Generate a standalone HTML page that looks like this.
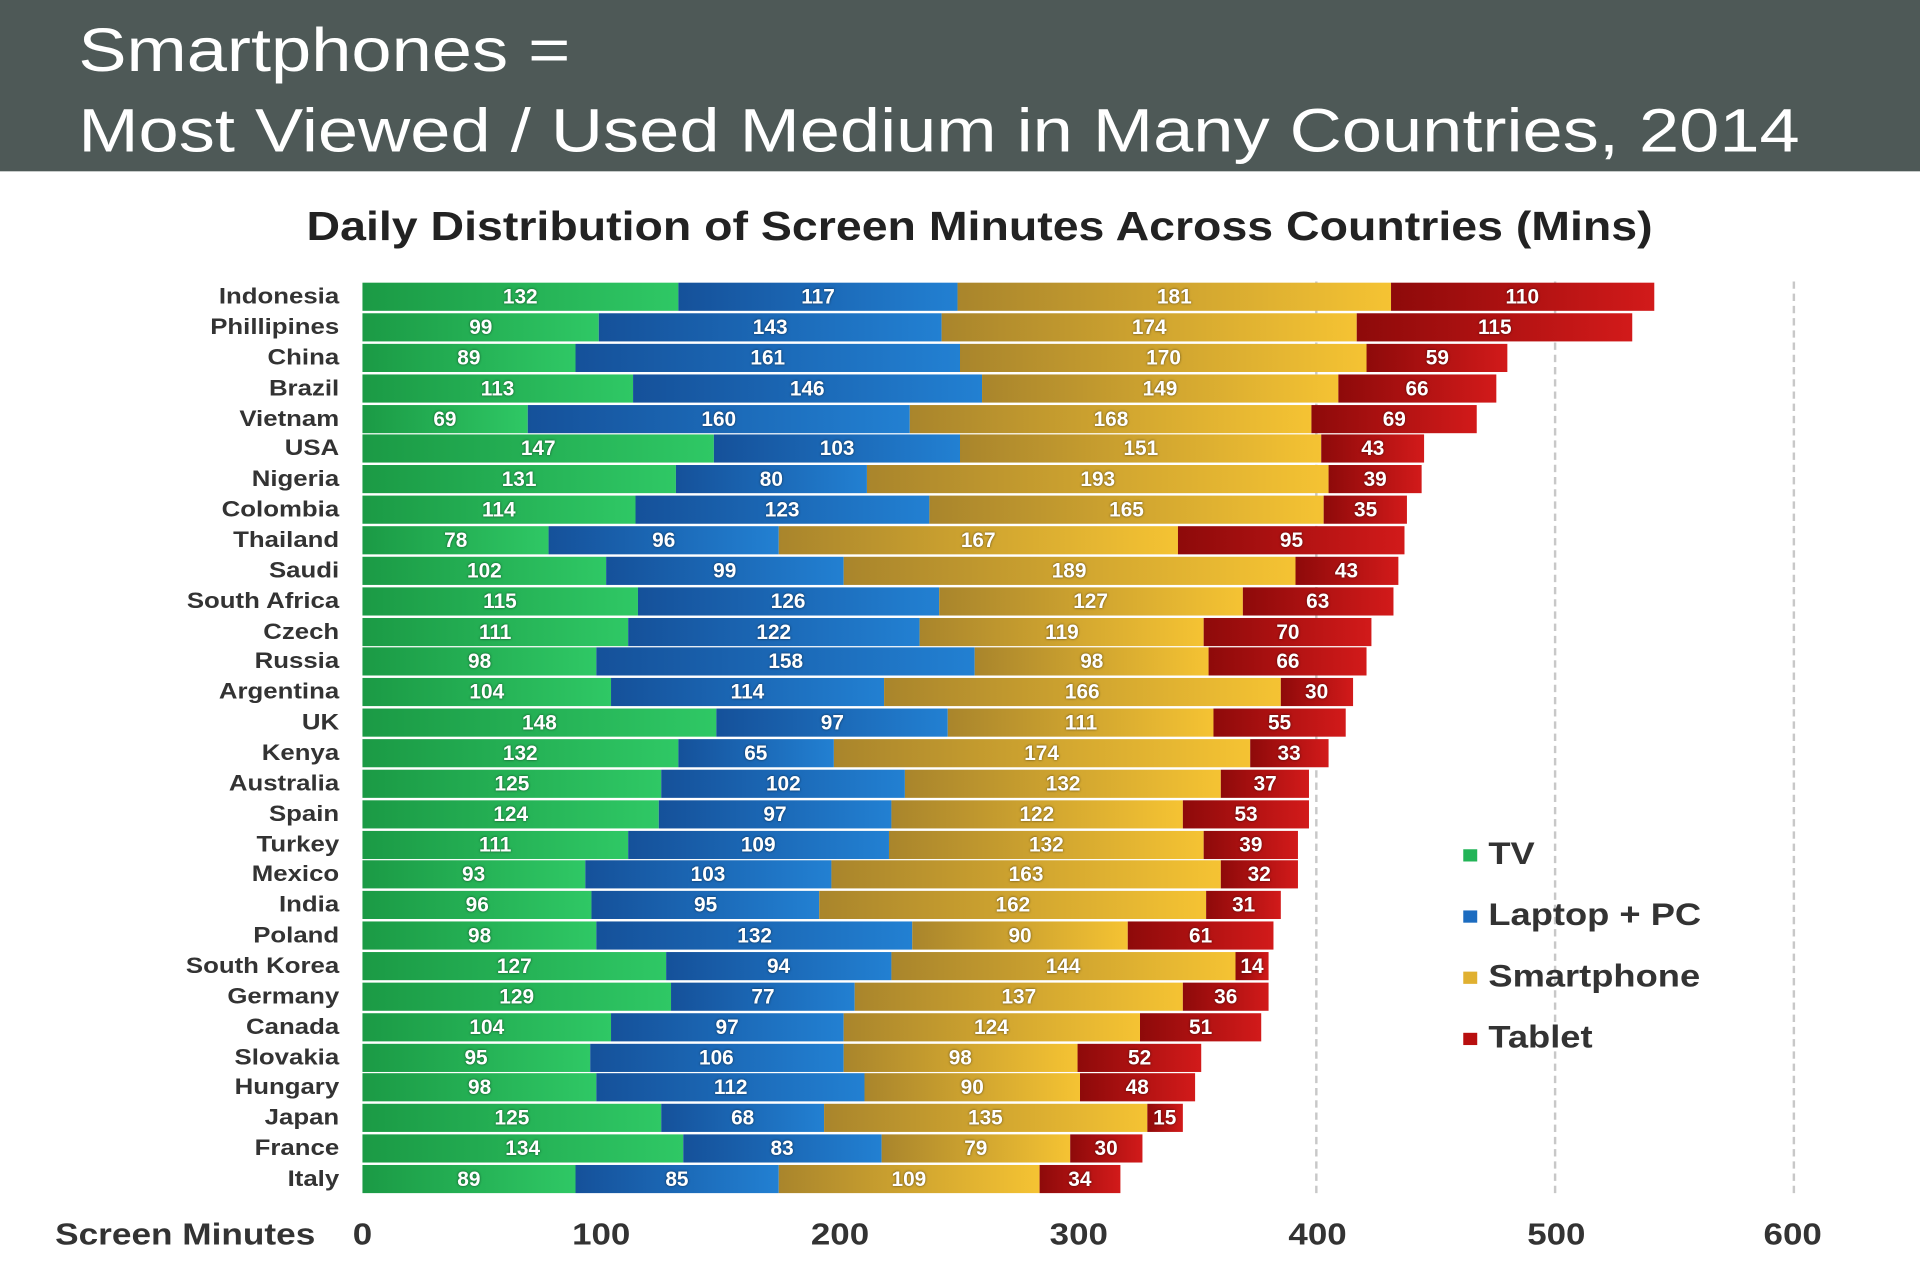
<!DOCTYPE html>
<html><head><meta charset="utf-8"><style>
html,body{margin:0;padding:0;background:#fff;overflow:hidden}
#w{position:absolute;left:0;top:0;width:1568px;height:1046px;transform-origin:0 0;transform:scale(1.22449,1.22371);font-family:"Liberation Sans",sans-serif;background:#fff}
#hd{position:absolute;left:0;top:0;width:1568px;height:140px;background:#4e5957}
.ht{position:absolute;left:64px;color:#fff;font-size:50px;line-height:50px;white-space:nowrap;transform-origin:0 0;transform:scaleX(1.18)}
#ct{position:absolute;left:0;width:1600px;top:166px;text-align:center;font-weight:bold;font-size:33px;color:#222;transform:scaleX(1.15);transform-origin:800px 0}
.row{position:absolute;left:296px;height:23px;display:flex}
.s{height:23px;width:calc(var(--v)*1.953px);color:#fff;font-weight:bold;font-size:17px;line-height:23px;text-align:center;text-shadow:0 0 2px rgba(0,0,0,.6)}
.g{background:linear-gradient(90deg,#1b9a45,#2fc865)}
.b{background:linear-gradient(90deg,#15519a,#2280d2)}
.y{background:linear-gradient(90deg,#a9852c,#f5c333)}
.r{background:linear-gradient(90deg,#8e0a0a,#d21a1a)}
.lab{position:absolute;left:0;width:277px;text-align:right;font-weight:bold;font-size:18px;color:#333;line-height:23px;transform:scaleX(1.17);transform-origin:277px 0}
.grid{position:absolute;top:230px;height:745px;border-left:2px dashed #c8c8c8}
.tk{position:absolute;top:995px;width:80px;margin-left:-40px;text-align:center;font-weight:bold;font-size:25px;color:#333;transform:scaleX(1.14)}
.lg{position:absolute;left:1195px;font-weight:bold;font-size:26px;color:#333;line-height:30px;transform:scaleX(1.14);transform-origin:0 0}
.lg i{display:inline-block;width:10px;height:10px;margin-right:8px;vertical-align:middle}
</style></head><body><div id="w">
<div id="hd"><div class="ht" style="top:16px">Smartphones =</div><div class="ht" style="top:82px">Most Viewed / Used Medium in Many Countries, 2014</div></div>
<div id="ct">Daily Distribution of Screen Minutes Across Countries (Mins)</div>
<div class="grid" style="left:1074px"></div><div class="grid" style="left:1269px"></div><div class="grid" style="left:1464px"></div>

<div class="lab" style="top:231px">Indonesia</div><div class="row" style="top:231px"><div class="s g" style="--v:132">132</div><div class="s b" style="--v:117">117</div><div class="s y" style="--v:181">181</div><div class="s r" style="--v:110">110</div></div>
<div class="lab" style="top:256px">Phillipines</div><div class="row" style="top:256px"><div class="s g" style="--v:99">99</div><div class="s b" style="--v:143">143</div><div class="s y" style="--v:174">174</div><div class="s r" style="--v:115">115</div></div>
<div class="lab" style="top:281px">China</div><div class="row" style="top:281px"><div class="s g" style="--v:89">89</div><div class="s b" style="--v:161">161</div><div class="s y" style="--v:170">170</div><div class="s r" style="--v:59">59</div></div>
<div class="lab" style="top:306px">Brazil</div><div class="row" style="top:306px"><div class="s g" style="--v:113">113</div><div class="s b" style="--v:146">146</div><div class="s y" style="--v:149">149</div><div class="s r" style="--v:66">66</div></div>
<div class="lab" style="top:331px">Vietnam</div><div class="row" style="top:331px"><div class="s g" style="--v:69">69</div><div class="s b" style="--v:160">160</div><div class="s y" style="--v:168">168</div><div class="s r" style="--v:69">69</div></div>
<div class="lab" style="top:355px">USA</div><div class="row" style="top:355px"><div class="s g" style="--v:147">147</div><div class="s b" style="--v:103">103</div><div class="s y" style="--v:151">151</div><div class="s r" style="--v:43">43</div></div>
<div class="lab" style="top:380px">Nigeria</div><div class="row" style="top:380px"><div class="s g" style="--v:131">131</div><div class="s b" style="--v:80">80</div><div class="s y" style="--v:193">193</div><div class="s r" style="--v:39">39</div></div>
<div class="lab" style="top:405px">Colombia</div><div class="row" style="top:405px"><div class="s g" style="--v:114">114</div><div class="s b" style="--v:123">123</div><div class="s y" style="--v:165">165</div><div class="s r" style="--v:35">35</div></div>
<div class="lab" style="top:430px">Thailand</div><div class="row" style="top:430px"><div class="s g" style="--v:78">78</div><div class="s b" style="--v:96">96</div><div class="s y" style="--v:167">167</div><div class="s r" style="--v:95">95</div></div>
<div class="lab" style="top:455px">Saudi</div><div class="row" style="top:455px"><div class="s g" style="--v:102">102</div><div class="s b" style="--v:99">99</div><div class="s y" style="--v:189">189</div><div class="s r" style="--v:43">43</div></div>
<div class="lab" style="top:480px">South Africa</div><div class="row" style="top:480px"><div class="s g" style="--v:115">115</div><div class="s b" style="--v:126">126</div><div class="s y" style="--v:127">127</div><div class="s r" style="--v:63">63</div></div>
<div class="lab" style="top:505px">Czech</div><div class="row" style="top:505px"><div class="s g" style="--v:111">111</div><div class="s b" style="--v:122">122</div><div class="s y" style="--v:119">119</div><div class="s r" style="--v:70">70</div></div>
<div class="lab" style="top:529px">Russia</div><div class="row" style="top:529px"><div class="s g" style="--v:98">98</div><div class="s b" style="--v:158">158</div><div class="s y" style="--v:98">98</div><div class="s r" style="--v:66">66</div></div>
<div class="lab" style="top:554px">Argentina</div><div class="row" style="top:554px"><div class="s g" style="--v:104">104</div><div class="s b" style="--v:114">114</div><div class="s y" style="--v:166">166</div><div class="s r" style="--v:30">30</div></div>
<div class="lab" style="top:579px">UK</div><div class="row" style="top:579px"><div class="s g" style="--v:148">148</div><div class="s b" style="--v:97">97</div><div class="s y" style="--v:111">111</div><div class="s r" style="--v:55">55</div></div>
<div class="lab" style="top:604px">Kenya</div><div class="row" style="top:604px"><div class="s g" style="--v:132">132</div><div class="s b" style="--v:65">65</div><div class="s y" style="--v:174">174</div><div class="s r" style="--v:33">33</div></div>
<div class="lab" style="top:629px">Australia</div><div class="row" style="top:629px"><div class="s g" style="--v:125">125</div><div class="s b" style="--v:102">102</div><div class="s y" style="--v:132">132</div><div class="s r" style="--v:37">37</div></div>
<div class="lab" style="top:654px">Spain</div><div class="row" style="top:654px"><div class="s g" style="--v:124">124</div><div class="s b" style="--v:97">97</div><div class="s y" style="--v:122">122</div><div class="s r" style="--v:53">53</div></div>
<div class="lab" style="top:679px">Turkey</div><div class="row" style="top:679px"><div class="s g" style="--v:111">111</div><div class="s b" style="--v:109">109</div><div class="s y" style="--v:132">132</div><div class="s r" style="--v:39">39</div></div>
<div class="lab" style="top:703px">Mexico</div><div class="row" style="top:703px"><div class="s g" style="--v:93">93</div><div class="s b" style="--v:103">103</div><div class="s y" style="--v:163">163</div><div class="s r" style="--v:32">32</div></div>
<div class="lab" style="top:728px">India</div><div class="row" style="top:728px"><div class="s g" style="--v:96">96</div><div class="s b" style="--v:95">95</div><div class="s y" style="--v:162">162</div><div class="s r" style="--v:31">31</div></div>
<div class="lab" style="top:753px">Poland</div><div class="row" style="top:753px"><div class="s g" style="--v:98">98</div><div class="s b" style="--v:132">132</div><div class="s y" style="--v:90">90</div><div class="s r" style="--v:61">61</div></div>
<div class="lab" style="top:778px">South Korea</div><div class="row" style="top:778px"><div class="s g" style="--v:127">127</div><div class="s b" style="--v:94">94</div><div class="s y" style="--v:144">144</div><div class="s r" style="--v:14">14</div></div>
<div class="lab" style="top:803px">Germany</div><div class="row" style="top:803px"><div class="s g" style="--v:129">129</div><div class="s b" style="--v:77">77</div><div class="s y" style="--v:137">137</div><div class="s r" style="--v:36">36</div></div>
<div class="lab" style="top:828px">Canada</div><div class="row" style="top:828px"><div class="s g" style="--v:104">104</div><div class="s b" style="--v:97">97</div><div class="s y" style="--v:124">124</div><div class="s r" style="--v:51">51</div></div>
<div class="lab" style="top:853px">Slovakia</div><div class="row" style="top:853px"><div class="s g" style="--v:95">95</div><div class="s b" style="--v:106">106</div><div class="s y" style="--v:98">98</div><div class="s r" style="--v:52">52</div></div>
<div class="lab" style="top:877px">Hungary</div><div class="row" style="top:877px"><div class="s g" style="--v:98">98</div><div class="s b" style="--v:112">112</div><div class="s y" style="--v:90">90</div><div class="s r" style="--v:48">48</div></div>
<div class="lab" style="top:902px">Japan</div><div class="row" style="top:902px"><div class="s g" style="--v:125">125</div><div class="s b" style="--v:68">68</div><div class="s y" style="--v:135">135</div><div class="s r" style="--v:15">15</div></div>
<div class="lab" style="top:927px">France</div><div class="row" style="top:927px"><div class="s g" style="--v:134">134</div><div class="s b" style="--v:83">83</div><div class="s y" style="--v:79">79</div><div class="s r" style="--v:30">30</div></div>
<div class="lab" style="top:952px">Italy</div><div class="row" style="top:952px"><div class="s g" style="--v:89">89</div><div class="s b" style="--v:85">85</div><div class="s y" style="--v:109">109</div><div class="s r" style="--v:34">34</div></div>

<div class="tk" style="left:296px">0</div><div class="tk" style="left:491px">100</div><div class="tk" style="left:686px">200</div><div class="tk" style="left:881px">300</div><div class="tk" style="left:1076px">400</div><div class="tk" style="left:1271px">500</div><div class="tk" style="left:1464px">600</div>
<div style="position:absolute;left:45px;top:995px;font-weight:bold;font-size:25px;color:#333;transform:scaleX(1.15);transform-origin:0 0">Screen Minutes</div>

<div class="lg" style="top:682px"><i style="background:#22b457"></i>TV</div>
<div class="lg" style="top:732px"><i style="background:#1c6cc0"></i>Laptop + PC</div>
<div class="lg" style="top:782px"><i style="background:#e0b030"></i>Smartphone</div>
<div class="lg" style="top:832px"><i style="background:#b80f0f"></i>Tablet</div>
</div></body></html>
